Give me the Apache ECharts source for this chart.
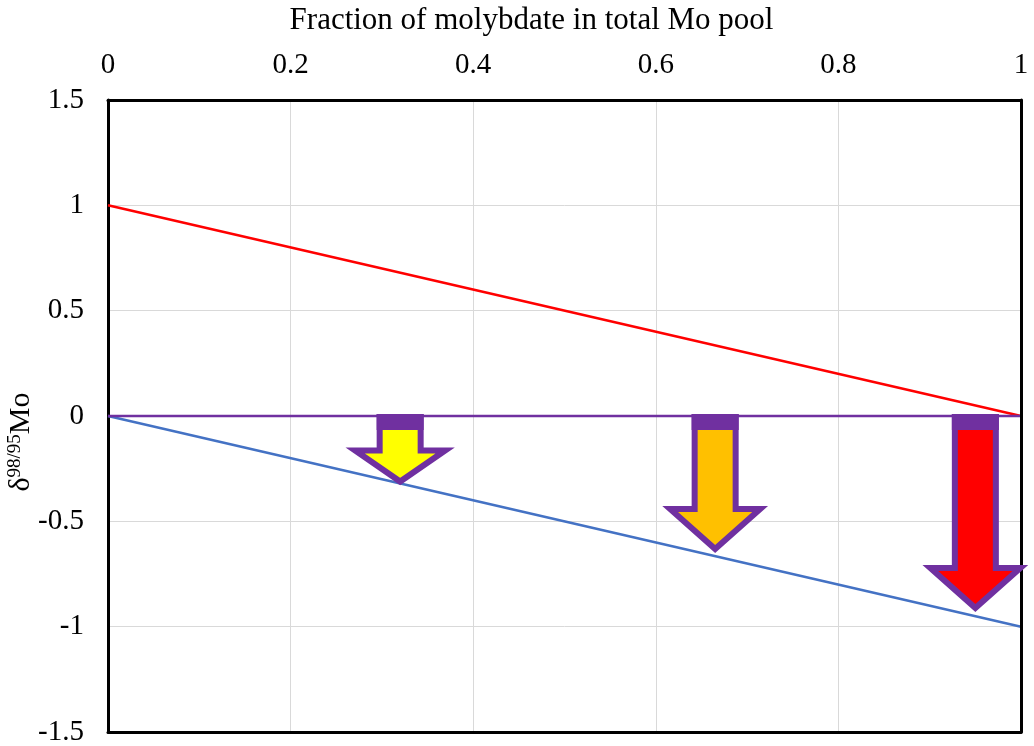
<!DOCTYPE html>
<html>
<head>
<meta charset="utf-8">
<script src="https://cdn.jsdelivr.net/npm/echarts@6/dist/echarts.min.js"></script>
<style>
  html, body { margin: 0; padding: 0; background: #fff; }
  #chart { width: 1034px; height: 746px; }
</style>
</head>
<body>
<div id="chart"></div>
<script>
// Mixing lines: δ98/95Mo versus fraction of molybdate in the total Mo pool
const fraction = [0, 1];
const upperLine = [1, 0];      // red end-member line
const lowerLine = [0, -1];     // blue end-member line
const zeroLine = [0, 0];       // purple reference line

// Downward arrows: x position, start value and tip value
const arrowX = [0.32, 0.665, 0.95];
const arrowStart = [0, 0, 0];
const arrowTip = [-0.33, -0.65, -0.93];

const FONT = '"Liberation Serif", "Times New Roman", serif';
const PURPLE = '#7030A0';
const ARROW_FILLS = ['#FFFF00', '#FFC000', '#FF0000'];
const FRAME = { show: true, onZero: false, lineStyle: { color: '#000', width: 3 } };

const pairs = (xs, ys) => xs.map((x, i) => [x, ys[i]]);

function renderArrow(params, api) {
  const top = api.coord([api.value(0), api.value(1)]);
  const tip = api.coord([api.value(0), api.value(2)]);
  const cx = top[0];
  const bodyHalf = 20.5;
  const wingHalf = 45;
  const yTop = top[1] + 1;
  const yTip = tip[1] - 4;
  const len = yTip - yTop;
  const headLen = Math.min(40, 0.48 * len);
  const yWing = yTip - headLen;
  return {
    type: 'group',
    children: [
      {
        type: 'polygon',
        shape: {
          points: [
            [cx - bodyHalf, yTop], [cx + bodyHalf, yTop], [cx + bodyHalf, yWing],
            [cx + wingHalf, yWing], [cx, yTip], [cx - wingHalf, yWing], [cx - bodyHalf, yWing]
          ]
        },
        style: {
          fill: ARROW_FILLS[params.dataIndex],
          stroke: PURPLE,
          lineWidth: 6,
          lineJoin: 'miter',
          miterLimit: 10
        }
      },
      {
        type: 'rect',
        shape: { x: cx - 23.5, y: top[1] - 2, width: 47, height: 16 },
        style: { fill: PURPLE }
      }
    ]
  };
}

const chart = echarts.init(document.getElementById('chart'), null, { renderer: 'canvas' });

// Frame-only axes on the bottom and right edges of the plot
const frameX = {
  type: 'value', position: 'bottom', min: 0, max: 1, z: 5,
  axisLine: FRAME, axisTick: { show: false }, axisLabel: { show: false }, splitLine: { show: false }
};
const frameY = {
  type: 'value', position: 'right', min: -1.5, max: 1.5, z: 5,
  axisLine: FRAME, axisTick: { show: false }, axisLabel: { show: false }, splitLine: { show: false }
};

chart.setOption({
  animation: false,
  backgroundColor: '#fff',
  grid: {
    left: 108, top: 100, width: 913, height: 632,
    containLabel: false,
    outerBoundsMode: 'none',
    show: false
  },
  xAxis: [{
    type: 'value',
    position: 'top',
    min: 0, max: 1, interval: 0.2,
    name: 'Fraction of molybdate in total Mo pool',
    nameLocation: 'middle',
    nameGap: 64,
    nameMoveOverlap: false,
    nameTextStyle: { fontFamily: FONT, fontSize: 31, color: '#000', padding: [0, 66, 0, 0] },
    axisLine: FRAME,
    axisTick: { show: false },
    axisLabel: { fontFamily: FONT, fontSize: 29, color: '#000', margin: 20 },
    splitLine: { show: true, lineStyle: { color: '#d9d9d9', width: 1 } }
  }, frameX],
  yAxis: [{
    type: 'value',
    min: -1.5, max: 1.5, interval: 0.5,
    name: '{d|δ}{s|98/95}{m|Mo}',
    nameLocation: 'middle',
    nameGap: 72,
    nameRotate: 90,
    nameMoveOverlap: false,
    nameTextStyle: {
      fontFamily: FONT, color: '#000',
      padding: [0, 52, 0, 0],
      rich: {
        d: { fontFamily: FONT, fontSize: 30, color: '#000' },
        s: { fontFamily: FONT, fontSize: 19, color: '#000', verticalAlign: 'top', padding: [0, 0, 10, 0] },
        m: { fontFamily: FONT, fontSize: 30, color: '#000' }
      }
    },
    axisLine: FRAME,
    axisTick: { show: false },
    axisLabel: { fontFamily: FONT, fontSize: 29, color: '#000', margin: 24 },
    splitLine: { show: true, lineStyle: { color: '#d9d9d9', width: 1 } }
  }, frameY],
  series: [
    {
      type: 'line', data: pairs(fraction, upperLine), showSymbol: false,
      lineStyle: { color: '#FF0000', width: 2.5 }, z: 3
    },
    {
      type: 'line', data: pairs(fraction, lowerLine), showSymbol: false,
      lineStyle: { color: '#4472C4', width: 2.5 }, z: 3
    },
    {
      type: 'line', data: pairs(fraction, zeroLine), showSymbol: false,
      lineStyle: { color: PURPLE, width: 2.5 }, z: 4
    },
    {
      type: 'custom',
      renderItem: renderArrow,
      data: arrowX.map((x, i) => [x, arrowStart[i], arrowTip[i]]),
      encode: { x: 0, y: [1, 2] },
      clip: false,
      z: 10
    }
  ]
});
</script>
</body>
</html>
